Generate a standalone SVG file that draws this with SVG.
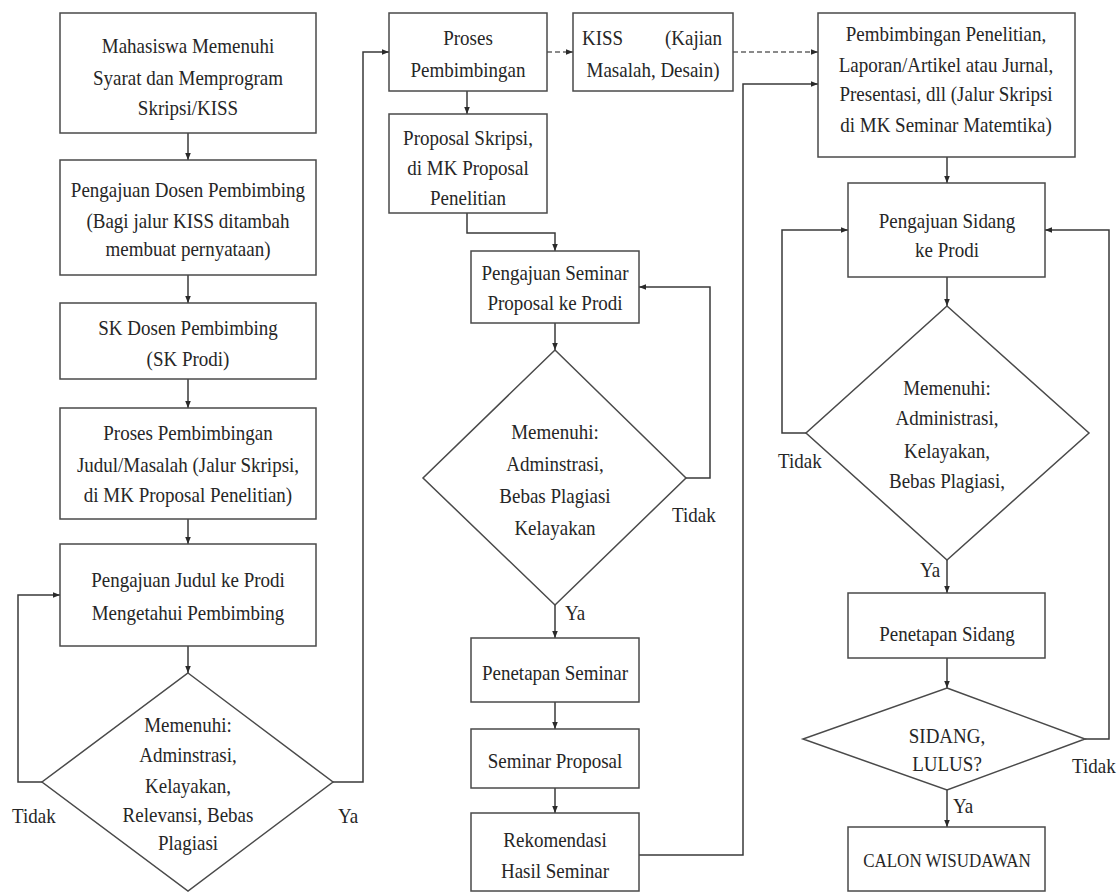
<svg xmlns="http://www.w3.org/2000/svg" width="1120" height="893" viewBox="0 0 1120 893">
<style>
.n{fill:#fff;stroke:#4a4a4a;stroke-width:1.5}
.t,.l{font-family:"Liberation Serif","Times New Roman","DejaVu Serif",serif;font-size:19px;fill:#262626;transform-box:fill-box;transform-origin:50% 70%;transform:scaleY(1.15)}
.t{text-anchor:middle}
.c{fill:none;stroke:#3a3a3a;stroke-width:1.5}
.d{fill:none;stroke:#8a8a8a;stroke-width:1.8;stroke-dasharray:5 3}
</style>
<defs>
<marker id="ah" viewBox="0 0 10 10" refX="10" refY="5" markerWidth="7" markerHeight="7" orient="auto" markerUnits="userSpaceOnUse"><path d="M0,1 L10,5 L0,9 z" fill="#2a2a2a"/></marker>
</defs>
<rect width="1120" height="893" fill="#fff"/>
<g id="connectors">
<path class="c" d="M188,133 V160" marker-end="url(#ah)"/>
<path class="c" d="M188,275 V303" marker-end="url(#ah)"/>
<path class="c" d="M188,379 V408" marker-end="url(#ah)"/>
<path class="c" d="M188,519 V544" marker-end="url(#ah)"/>
<path class="c" d="M188,646 V673" marker-end="url(#ah)"/>
<path class="c" d="M42,782 H18 V595 H60" marker-end="url(#ah)"/>
<path class="c" d="M333,782 H363 V52 H389" marker-end="url(#ah)"/>
<path class="c" d="M467,91 V114" marker-end="url(#ah)"/>
<path class="d" d="M547,52 H573" marker-end="url(#ah)"/>
<path class="d" d="M733,52 H818" marker-end="url(#ah)"/>
<path class="c" d="M467,213 V233 H555 V251" marker-end="url(#ah)"/>
<path class="c" d="M555,323 V350" marker-end="url(#ah)"/>
<path class="c" d="M686,478 H710 V287 H639" marker-end="url(#ah)"/>
<path class="c" d="M555,605 V638" marker-end="url(#ah)"/>
<path class="c" d="M555,702 V729" marker-end="url(#ah)"/>
<path class="c" d="M555,788 V813" marker-end="url(#ah)"/>
<path class="c" d="M639,855 H743 V84 H818" marker-end="url(#ah)"/>
<path class="c" d="M947,157 V183" marker-end="url(#ah)"/>
<path class="c" d="M947,277 V306" marker-end="url(#ah)"/>
<path class="c" d="M806,433 H782 V230 H848" marker-end="url(#ah)"/>
<path class="c" d="M947,560 V593" marker-end="url(#ah)"/>
<path class="c" d="M947,658 V688" marker-end="url(#ah)"/>
<path class="c" d="M1085,739 H1109 V230 H1045" marker-end="url(#ah)"/>
<path class="c" d="M947,790 V827" marker-end="url(#ah)"/>
<text class="l" x="12" y="823">Tidak</text>
<text class="l" x="338" y="823">Ya</text>
<text class="l" x="672" y="522">Tidak</text>
<text class="l" x="565" y="620">Ya</text>
<text class="l" x="778" y="468">Tidak</text>
<text class="l" x="920" y="577">Ya</text>
<text class="l" x="1072" y="773">Tidak</text>
<text class="l" x="953" y="813">Ya</text>
</g>
<g id="n1"><rect class="n" x="60" y="13" width="256" height="120"/>
<text class="t" x="188" y="53">Mahasiswa Memenuhi</text><text class="t" x="188" y="85">Syarat dan Memprogram</text><text class="t" x="188" y="115">Skripsi/KISS</text></g>
<g id="n2"><rect class="n" x="60" y="160" width="256" height="115"/>
<text class="t" x="188" y="197">Pengajuan Dosen Pembimbing</text><text class="t" x="188" y="228">(Bagi jalur KISS ditambah</text><text class="t" x="188" y="256">membuat pernyataan)</text></g>
<g id="n3"><rect class="n" x="60" y="303" width="256" height="76"/>
<text class="t" x="188" y="335">SK Dosen Pembimbing</text><text class="t" x="188" y="366">(SK Prodi)</text></g>
<g id="n4"><rect class="n" x="60" y="408" width="256" height="111"/>
<text class="t" x="188" y="440">Proses Pembimbingan</text><text class="t" x="188" y="472">Judul/Masalah (Jalur Skripsi,</text><text class="t" x="188" y="502">di MK Proposal Penelitian)</text></g>
<g id="n5"><rect class="n" x="60" y="544" width="256" height="102"/>
<text class="t" x="188" y="587">Pengajuan Judul ke Prodi</text><text class="t" x="188" y="620">Mengetahui Pembimbing</text></g>
<g id="d1"><polygon class="n" points="188,673 333,782 188,891 42,782"/>
<text class="t" x="188" y="732">Memenuhi:</text><text class="t" x="188" y="762">Adminstrasi,</text><text class="t" x="188" y="793">Kelayakan,</text><text class="t" x="188" y="822">Relevansi, Bebas</text><text class="t" x="188" y="850">Plagiasi</text></g>
<g id="n6"><rect class="n" x="389" y="13" width="158" height="78"/>
<text class="t" x="468" y="45">Proses</text><text class="t" x="468" y="77">Pembimbingan</text></g>
<g id="n7"><rect class="n" x="573" y="13" width="160" height="78"/>
<text class="l" x="582" y="45">KISS</text><text class="l" x="722" y="45" text-anchor="end">(Kajian</text><text class="t" x="653" y="77">Masalah, Desain)</text></g>
<g id="n8"><rect class="n" x="389" y="114" width="158" height="99"/>
<text class="t" x="468" y="145">Proposal Skripsi,</text><text class="t" x="468" y="175">di MK Proposal</text><text class="t" x="468" y="205">Penelitian</text></g>
<g id="n9"><rect class="n" x="471" y="251" width="168" height="72"/>
<text class="t" x="555" y="280">Pengajuan Seminar</text><text class="t" x="555" y="310">Proposal ke Prodi</text></g>
<g id="d2"><polygon class="n" points="555,350 686,478 555,605 423,478"/>
<text class="t" x="555" y="439">Memenuhi:</text><text class="t" x="555" y="471">Adminstrasi,</text><text class="t" x="555" y="503">Bebas Plagiasi</text><text class="t" x="555" y="535">Kelayakan</text></g>
<g id="n10"><rect class="n" x="471" y="638" width="168" height="64"/>
<text class="t" x="555" y="680">Penetapan Seminar</text></g>
<g id="n11"><rect class="n" x="471" y="729" width="168" height="59"/>
<text class="t" x="555" y="768">Seminar Proposal</text></g>
<g id="n12"><rect class="n" x="471" y="813" width="168" height="78"/>
<text class="t" x="555" y="847">Rekomendasi</text><text class="t" x="555" y="878">Hasil Seminar</text></g>
<g id="n13"><rect class="n" x="818" y="13" width="257" height="144"/>
<text class="t" x="946" y="41">Pembimbingan Penelitian,</text><text class="t" x="946" y="72">Laporan/Artikel atau Jurnal,</text><text class="t" x="946" y="101">Presentasi, dll (Jalur Skripsi</text><text class="t" x="946" y="132">di MK Seminar Matemtika)</text></g>
<g id="n14"><rect class="n" x="848" y="183" width="197" height="94"/>
<text class="t" x="947" y="228">Pengajuan Sidang</text><text class="t" x="947" y="257">ke Prodi</text></g>
<g id="d3"><polygon class="n" points="947,306 1089,433 947,560 806,433"/>
<text class="t" x="947" y="395">Memenuhi:</text><text class="t" x="947" y="425">Administrasi,</text><text class="t" x="947" y="458">Kelayakan,</text><text class="t" x="947" y="488">Bebas Plagiasi,</text></g>
<g id="n15"><rect class="n" x="848" y="593" width="197" height="65"/>
<text class="t" x="947" y="641">Penetapan Sidang</text></g>
<g id="d4"><polygon class="n" points="947,688 1085,739 947,790 803,739"/>
<text class="t" x="947" y="743">SIDANG,</text><text class="t" x="947" y="771">LULUS?</text></g>
<g id="n16"><rect class="n" x="848" y="827" width="197" height="64"/>
<text class="t" x="947" y="867" style="font-size:17px">CALON WISUDAWAN</text></g>
</svg>
